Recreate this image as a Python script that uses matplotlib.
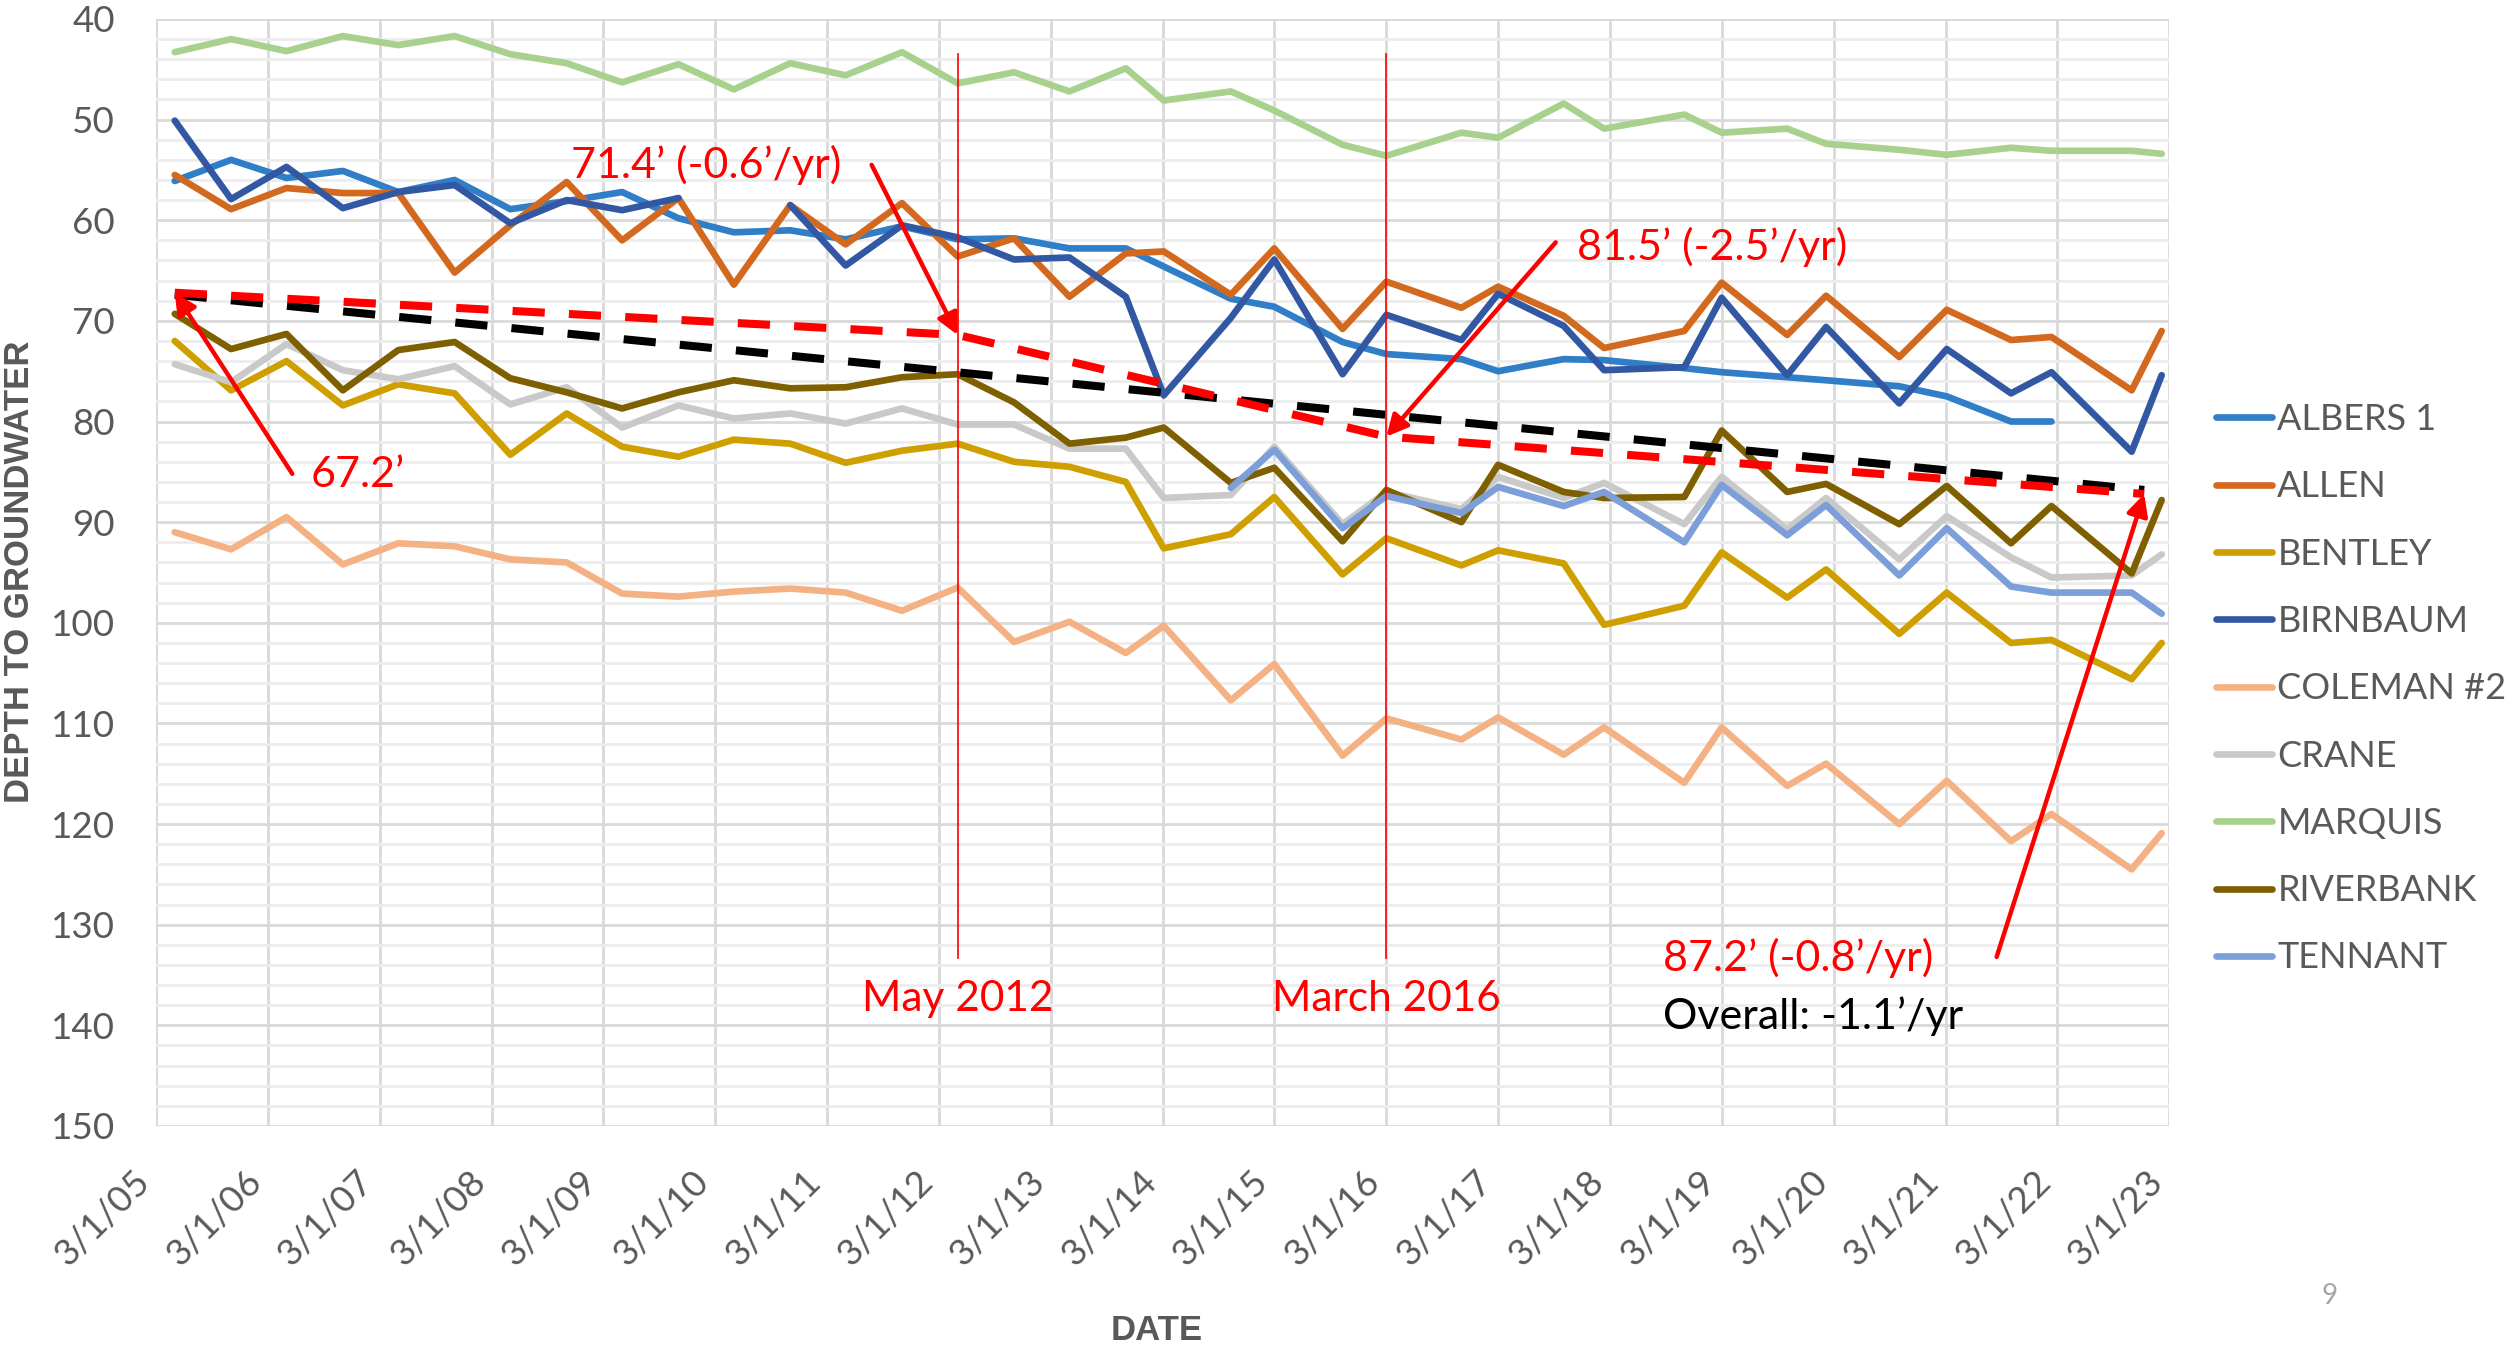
import matplotlib
matplotlib.use("Agg")
import matplotlib.pyplot as plt
import matplotlib.dates as mdates
import matplotlib.transforms as mtransforms
from matplotlib.ticker import MultipleLocator
import numpy as np
import pandas as pd

plt.rcParams["font.family"] = ["Lato", "DejaVu Sans"]

# ------------------------------------------------------------------
# Data (depth to groundwater, ft)
# ------------------------------------------------------------------
DATES = [
    "2005-05-01", "2005-11-01", "2006-05-01", "2006-11-01", "2007-05-01", "2007-11-01",
    "2008-05-01", "2008-11-01", "2009-05-01", "2009-11-01", "2010-05-01", "2010-11-01",
    "2011-05-01", "2011-11-01", "2012-05-01", "2012-11-01", "2013-05-01", "2013-11-01",
    "2014-03-05", "2014-10-10", "2015-03-01", "2015-10-10", "2016-03-01", "2016-11-01",
    "2017-03-01", "2017-10-01", "2018-02-10", "2018-10-30", "2019-03-01", "2019-10-01",
    "2020-02-05", "2020-10-01", "2021-03-05", "2021-10-01", "2022-02-10", "2022-10-30",
    "2023-02-05",
]
nan = np.nan
ALBERS_1 = [56.1, 54.0, 55.8, 55.1, 57.2, 56.0, 58.9, 58.1, 57.2, 59.8, 61.2, 61.0,
            61.9, 60.6, 61.9, 61.8, 62.8, 62.8, 64.6, 67.8, 68.6, 72.1, 73.3, 73.8,
            75.0, 73.8, 73.9, 74.7, 75.1, 75.6, 75.9, 76.5, 77.5, 80.0, 80.0, nan, nan]
ALLEN = [55.5, 58.9, 56.8, 57.3, 57.3, 65.2, 60.5, 56.2, 62.0, 57.8, 66.4, 58.5,
         62.4, 58.3, 63.6, 61.8, 67.6, 63.3, 63.1, 67.4, 62.8, 70.8, 66.1, 68.7,
         66.6, 69.5, 72.7, 71.0, 66.2, 71.4, 67.5, 73.6, 68.9, 71.9, 71.6, 76.9, 71.0]
BENTLEY = [72.0, 76.9, 74.0, 78.4, 76.3, 77.2, 83.3, 79.2, 82.5, 83.5, 81.8, 82.2,
           84.1, 82.9, 82.2, 84.0, 84.5, 86.0, 92.6, 91.2, 87.5, 95.2, 91.6, 94.3,
           92.8, 94.1, 100.2, 98.3, 93.0, 97.5, 94.7, 101.1, 97.0, 102.0, 101.7, 105.6, 102.0]
BIRNBAUM = [50.1, 57.9, 54.7, 58.8, 57.2, 56.5, 60.3, 58.0, 59.0, 57.8, nan, 58.5,
            64.5, 60.5, 61.7, 63.9, 63.7, 67.6, 77.4, 69.7, 63.9, 75.3, 69.4, 71.9,
            67.3, 70.5, 74.9, 74.6, 67.7, 75.4, 70.6, 78.2, 72.8, 77.2, 75.1, 83.0, 75.4]
COLEMAN_2 = [91.0, 92.7, 89.5, 94.2, 92.1, 92.4, 93.7, 94.0, 97.1, 97.4, 96.9, 96.6,
             97.0, 98.8, 96.5, 101.9, 99.9, 103.0, 100.3, 107.7, 104.1, 113.2, 109.5, 111.6,
             109.4, 113.1, 110.4, 115.9, 110.4, 116.2, 114.0, 120.0, 115.7, 121.7, 119.0, 124.5, 120.9]
CRANE = [74.3, 76.1, 72.3, 74.9, 75.8, 74.5, 78.3, 76.6, 80.6, 78.4, 79.7, 79.2,
         80.2, 78.7, 80.3, 80.3, 82.7, 82.7, 87.6, 87.3, 82.5, 90.2, 87.0, 88.7,
         85.5, 87.6, 86.1, 90.2, 85.5, 90.7, 87.6, 93.7, 89.4, 93.5, 95.5, 95.3, 93.2]
MARQUIS = [43.3, 42.0, 43.2, 41.7, 42.6, 41.7, 43.5, 44.4, 46.3, 44.5, 47.0, 44.4,
           45.6, 43.3, 46.4, 45.3, 47.2, 44.9, 48.1, 47.2, 49.1, 52.5, 53.6, 51.3,
           51.8, 48.4, 50.9, 49.5, 51.3, 50.9, 52.4, 53.0, 53.5, 52.8, 53.1, 53.1, 53.4]
RIVERBANK = [69.3, 72.8, 71.3, 76.9, 72.9, 72.1, 75.7, 77.1, 78.7, 77.1, 75.9, 76.7,
             76.6, 75.6, 75.3, 78.1, 82.2, 81.6, 80.6, 86.1, 84.6, 91.9, 86.8, 90.0,
             84.3, 87.0, 87.6, 87.5, 80.9, 87.0, 86.2, 90.2, 86.4, 92.1, 88.4, 95.1, 87.8]
TENNANT = [nan] * 19 + [86.6, 82.8, 90.6, 87.4, 89.1, 86.5, 88.4, 87.0, 92.0,
                        86.3, 91.3, 88.3, 95.3, 90.6, 96.4, 97.0, 97.0, 99.1]

WELLS = ["ALBERS 1", "ALLEN", "BENTLEY", "BIRNBAUM", "COLEMAN #2",
         "CRANE", "MARQUIS", "RIVERBANK", "TENNANT"]
SERIES = [ALBERS_1, ALLEN, BENTLEY, BIRNBAUM, COLEMAN_2, CRANE, MARQUIS, RIVERBANK, TENNANT]
COLORS = ["#2F7EC7", "#D2691E", "#CF9F00", "#3258A3", "#F4B183",
          "#C9C9C9", "#A9D18E", "#7F6000", "#7D9FD9"]

# trend lines (piecewise red, overall black)
RED_TREND_DATES = ["2005-05-01", "2012-05-01", "2016-03-01", "2022-12-10"]
RED_TREND_VALS = [67.2, 71.4, 81.5, 87.2]
BLACK_TREND_DATES = ["2005-05-01", "2022-12-10"]
BLACK_TREND_VALS = [67.4, 86.8]

MILESTONES = ["2012-05-01", "2016-03-01"]
MILESTONE_LABELS = ["May 2012", "March 2016"]

XTICK_DATES = [f"{y}-03-01" for y in range(2005, 2024)]
XTICK_LABELS = [f"3/1/{y % 100:02d}" for y in range(2005, 2024)]

GRAY_TXT = "#595959"
RED = "#FF0000"


def d(s):
    return mdates.date2num(pd.Timestamp(s))


fig = plt.figure(figsize=(25.09, 13.54), dpi=100)
ax = fig.add_axes([0.0622, 0.1684, 0.8023, 0.8176])

dates = [d(s) for s in DATES]
handles = []
for name, vals, col in zip(WELLS, SERIES, COLORS):
    h, = ax.plot(dates, vals, color=col, lw=4.8, label=name,
                 solid_joinstyle="round", solid_capstyle="round", zorder=3)
    handles.append(h)

ax.plot([d(s) for s in BLACK_TREND_DATES], BLACK_TREND_VALS, color="black",
        lw=5.8, dashes=(4, 3.0), zorder=5)
ax.plot([d(s) for s in RED_TREND_DATES], RED_TREND_VALS, color=RED,
        lw=5.8, dashes=(4, 3.0), zorder=6)

# milestone vertical lines + labels
for s, lab in zip(MILESTONES, MILESTONE_LABELS):
    ax.plot([d(s), d(s)], [43.5, 133.3], color=RED, lw=1.2, zorder=7)
    ax.text(d(s), 137.4, lab, color=RED, fontsize=30.5, ha="center", va="center", zorder=8)

# annotation arrows
arrow_kw = dict(arrowstyle="-|>", color=RED, lw=3.2, mutation_scale=32, shrinkA=0, shrinkB=0)
ax.annotate("", xy=(d("2012-05-01"), 71.4), xytext=(d("2011-07-25"), 54.5),
            arrowprops=arrow_kw, zorder=9)
ax.annotate("", xy=(d("2005-05-01"), 67.2), xytext=(d("2006-05-20"), 85.2),
            arrowprops=arrow_kw, zorder=9)
ax.annotate("", xy=(d("2016-03-01"), 81.5), xytext=(d("2017-09-05"), 62.2),
            arrowprops=arrow_kw, zorder=9)
ax.annotate("", xy=(d("2022-12-10"), 87.2), xytext=(d("2021-08-15"), 133.2),
            arrowprops=arrow_kw, zorder=9)

ann_size = 31
ax.text(d("2008-11-15"), 54.5, "71.4\u2019 (-0.6\u2019/yr)", color=RED, fontsize=ann_size,
        ha="left", va="center", zorder=9)
ax.text(d("2006-07-20"), 85.3, "67.2\u2019", color=RED, fontsize=ann_size,
        ha="left", va="center", zorder=9)
ax.text(d("2017-11-12"), 62.7, "81.5\u2019 (-2.5\u2019/yr)", color=RED, fontsize=ann_size,
        ha="left", va="center", zorder=9)
ax.text(d("2018-08-20"), 133.3, "87.2\u2019 (-0.8\u2019/yr)", color=RED, fontsize=ann_size,
        ha="left", va="center", zorder=9)
ax.text(d("2018-08-20"), 139.1, "Overall: -1.1\u2019/yr", color="black", fontsize=ann_size,
        ha="left", va="center", zorder=9)

# axes
ax.set_xlim(d(XTICK_DATES[0]), d(XTICK_DATES[-1]))
ax.set_ylim(150, 40)
ax.set_xticks([d(s) for s in XTICK_DATES])
ax.set_xticklabels(XTICK_LABELS, rotation=45, ha="right")
shift = mtransforms.ScaledTranslation(7 / 100, 0, fig.dpi_scale_trans)
for lbl in ax.get_xticklabels():
    lbl.set_transform(lbl.get_transform() + shift)
ax.yaxis.set_major_locator(MultipleLocator(10))
ax.yaxis.set_minor_locator(MultipleLocator(2))
ax.tick_params(axis="both", which="both", length=0, labelsize=26.5, labelcolor=GRAY_TXT)
ax.tick_params(axis="y", pad=29.5)
ax.tick_params(axis="x", pad=28)
ax.grid(True, which="major", color="#D9D9D9", lw=2.0, zorder=0)
ax.grid(True, which="minor", axis="y", color="#EDEDED", lw=2.0, zorder=0)
ax.set_axisbelow(True)
for sp in ax.spines.values():
    sp.set_visible(False)

fig.text(20 / 2509, 0.5775, "DEPTH TO GROUNDWATER", rotation=90, ha="center", va="center",
         fontsize=25, fontweight="bold", color=GRAY_TXT, family=["Liberation Sans", "DejaVu Sans"])
fig.text(1157 / 2509, 1 - 1331 / 1354, "DATE", ha="center", va="center",
         fontsize=25, fontweight="bold", color=GRAY_TXT, family=["Liberation Sans", "DejaVu Sans"])
fig.text(2330 / 2509, 1 - 1296 / 1354, "9", ha="center", va="center", fontsize=20, color="#A6A6A6")

leg = fig.legend(handles, WELLS, loc="upper left", bbox_to_anchor=(2216 / 2509, 1 - 403 / 1354),
                 frameon=False, fontsize=26, labelcolor=GRAY_TXT, handlelength=1.55,
                 handletextpad=0.15, labelspacing=0.95, borderpad=0, borderaxespad=0)
for lh in leg.get_lines():
    lh.set_solid_capstyle("round")

fig.savefig("out.png", dpi=100)
